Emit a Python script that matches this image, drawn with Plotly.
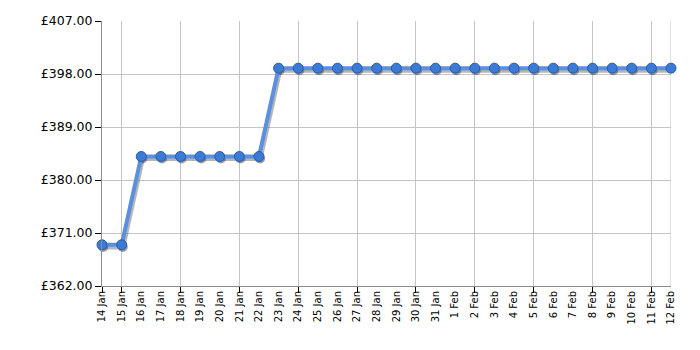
import plotly.graph_objects as go

dates = ["14 Jan", "15 Jan", "16 Jan", "17 Jan", "18 Jan", "19 Jan", "20 Jan", "21 Jan",
         "22 Jan", "23 Jan", "24 Jan", "25 Jan", "26 Jan", "27 Jan", "28 Jan", "29 Jan",
         "30 Jan", "31 Jan", "1 Feb", "2 Feb", "3 Feb", "4 Feb", "5 Feb", "6 Feb",
         "7 Feb", "8 Feb", "9 Feb", "10 Feb", "11 Feb", "12 Feb"]
prices = [368.99, 368.99, 383.99, 383.99, 383.99, 383.99, 383.99, 383.99,
          383.99, 398.99, 398.99, 398.99, 398.99, 398.99, 398.99, 398.99,
          398.99, 398.99, 398.99, 398.99, 398.99, 398.99, 398.99, 398.99,
          398.99, 398.99, 398.99, 398.99, 398.99, 398.99]
y_ticks = [362, 371, 380, 389, 398, 407]

idx = list(range(len(dates)))
grid_idx = [0] + idx[1::3]

fig = go.Figure()
# soft shadow
fig.add_trace(go.Scatter(
    x=[i + 0.06 for i in idx], y=[p - 0.35 for p in prices], mode="lines",
    line=dict(color="rgba(90,90,90,0.45)", width=5), hoverinfo="skip",
    cliponaxis=False, showlegend=False))
fig.add_trace(go.Scatter(
    x=[i + 0.06 for i in idx], y=[p - 0.35 for p in prices], mode="markers",
    marker=dict(color="rgba(60,60,60,0.5)", size=10, line=dict(width=0)),
    hoverinfo="skip", cliponaxis=False, showlegend=False))
fig.add_trace(go.Scatter(
    x=idx, y=prices, mode="lines+markers",
    line=dict(color="#5b8fe0", width=4),
    marker=dict(color="#3b7bd6", size=10, line=dict(color="#2a5aa6", width=1)),
    cliponaxis=False, showlegend=False))

fig.update_layout(
    width=700, height=350,
    margin=dict(l=102, r=29, t=21, b=64),
    paper_bgcolor="white", plot_bgcolor="white",
    font=dict(family="DejaVu Sans", color="#000000"),
)
fig.update_xaxes(
    range=[0, len(dates) - 1],
    tickmode="array", tickvals=idx, ticktext=dates,
    tickangle=-90, tickfont=dict(size=10),
    ticks="", showgrid=False, zeroline=False,
    showline=True, linecolor="#8c8c8c", linewidth=1,
    mirror=False,
    minor=dict(tickmode="array", tickvals=grid_idx, showgrid=True,
               gridcolor="#c4c4c4", gridwidth=1, ticks="outside",
               ticklen=6, tickcolor="#000000", tickwidth=1),
)
fig.update_yaxes(
    range=[362, 407], tickmode="array", tickvals=y_ticks,
    ticktext=["£%.2f" % v for v in y_ticks],
    tickfont=dict(size=12.5),
    ticks="outside", ticklen=6, tickcolor="#000000",
    showgrid=True, gridcolor="#c4c4c4", gridwidth=1, zeroline=False,
    showline=True, linecolor="#8c8c8c", linewidth=1,
)
# right border at the last category
fig.add_shape(type="line", xref="x", yref="paper", x0=idx[-1], x1=idx[-1], y0=0, y1=1,
              line=dict(color="#c4c4c4", width=1), layer="below")

fig.write_html("out.html")
